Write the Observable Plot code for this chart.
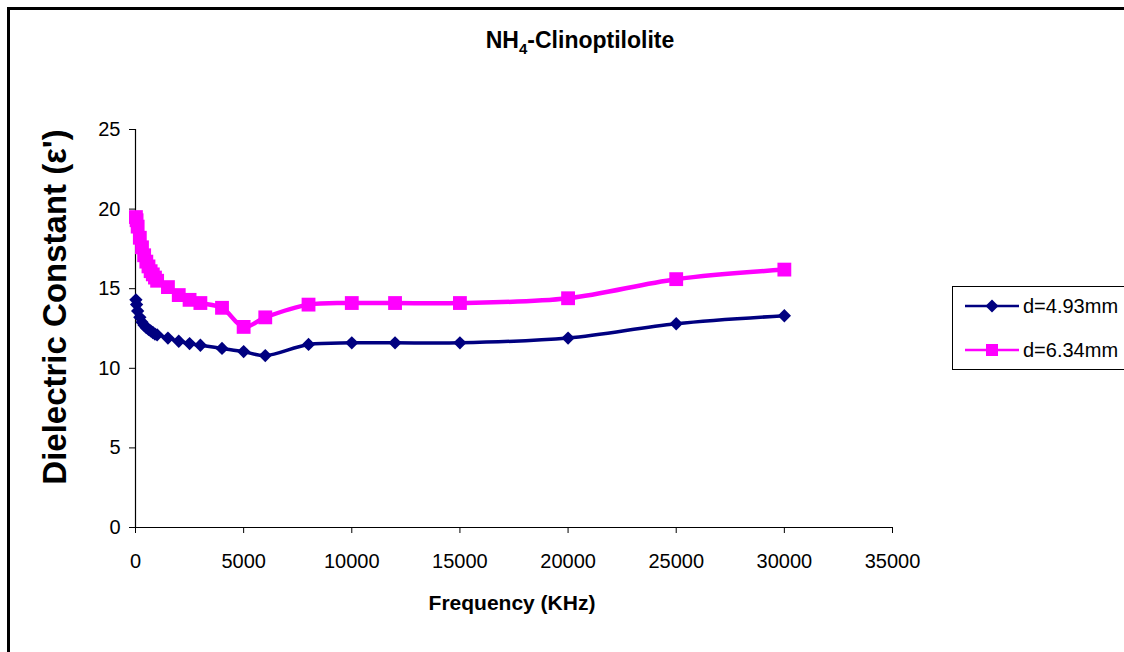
<!DOCTYPE html>
<html>
<head>
<meta charset="utf-8">
<script src="https://cdn.jsdelivr.net/npm/d3@7"></script>
<script src="https://cdn.jsdelivr.net/npm/@observablehq/plot@0.6"></script>
<style>
  html, body { margin: 0; padding: 0; background: #fff; }
  body { width: 1124px; height: 652px; position: relative; overflow: hidden; font-family: "Liberation Sans", Arial, sans-serif; }
  #frame { position: absolute; left: 7px; top: 7px; width: 1130px; height: 660px; border-top: 3px solid #000; border-left: 3px solid #000; box-sizing: border-box; }
  #chart { position: absolute; left: 0; top: 0; }
  #title { position: absolute; left: 380px; width: 400px; top: 27px; text-align: center; font-weight: bold; font-size: 23px; color: #000; }
  #xtitle { position: absolute; left: 362px; width: 300px; top: 591px; text-align: center; font-weight: bold; font-size: 21px; }
  #ytitle { position: absolute; left: 55px; top: 307px; transform: translate(-50%, -50%) rotate(-90deg); white-space: nowrap; font-weight: bold; font-size: 33px; }
  #legend { position: absolute; left: 952px; top: 286px; width: 175px; height: 84px; border: 1px solid #000; box-sizing: border-box; background: #fff; }
  .li { position: absolute; left: 12px; height: 24px; font-size: 20px; display: flex; align-items: center; }
  .li svg { margin-right: 2px; }
</style>
</head>
<body>
<div id="frame"></div>
<div id="chart"></div>
<div id="title">NH<sub style="font-size:15px">4</sub>-Clinoptilolite</div>
<div id="xtitle">Frequency (KHz)</div>
<div id="ytitle">Dielectric Constant (ε')</div>
<div id="legend">
  <div class="li" style="top:7px"><svg width="56" height="16"><line x1="0" y1="8" x2="54" y2="8" stroke="#000080" stroke-width="2.5"/><path d="M27,1.5 L33.5,8 L27,14.5 L20.5,8 Z" fill="#000080"/></svg>d=4.93mm</div>
  <div class="li" style="top:51px"><svg width="56" height="16"><line x1="0" y1="8" x2="54" y2="8" stroke="#FF00FF" stroke-width="2.5"/><rect x="21" y="2" width="12" height="12" fill="#FF00FF"/></svg>d=6.34mm</div>
</div>
<script>
const freq = [20, 50, 100, 200, 300, 400, 500, 600, 700, 800, 900, 1000, 1500, 2000, 2500, 3000, 4000, 5000, 6000, 8000, 10000, 12000, 15000, 20000, 25000, 30000];
const d493 = [14.3, 14.0, 13.6, 13.2, 12.9, 12.7, 12.55, 12.45, 12.35, 12.25, 12.15, 12.1, 11.9, 11.7, 11.55, 11.45, 11.25, 11.05, 10.8, 11.5, 11.6, 11.6, 11.6, 11.9, 12.8, 13.3];
const d634 = [19.5, 19.3, 18.9, 18.2, 17.6, 17.1, 16.7, 16.4, 16.1, 15.9, 15.7, 15.5, 15.1, 14.6, 14.3, 14.1, 13.8, 12.6, 13.2, 14.0, 14.1, 14.1, 14.1, 14.4, 15.6, 16.2];
const xTicks = [0, 5000, 10000, 15000, 20000, 25000, 30000, 35000];
const yTicks = [0, 5, 10, 15, 20, 25];

const s1 = freq.map((f, i) => ({f, v: d493[i]}));
const s2 = freq.map((f, i) => ({f, v: d634[i]}));

const chart = Plot.plot({
  width: 1124,
  height: 652,
  marginLeft: 135,
  marginRight: 232,
  marginTop: 129,
  marginBottom: 125,
  style: {fontFamily: "Liberation Sans, Arial, sans-serif", fontSize: "20px", color: "#000", background: "transparent"},
  x: {domain: [0, 35000], ticks: xTicks, tickFormat: d3.format("d"), label: null},
  y: {domain: [0, 25], ticks: yTicks, label: null},
  marks: [
    Plot.axisX({ticks: xTicks, tickFormat: d3.format("d"), tickSize: 6, tickPadding: 20, fontSize: 20, label: null}),
    Plot.axisY({ticks: yTicks, tickSize: 6, tickPadding: 9, fontSize: 20, label: null}),
    Plot.ruleY([0], {stroke: "#000", strokeWidth: 1.2}),
    Plot.ruleX([0], {stroke: "#000", strokeWidth: 1.2}),
    Plot.line(s1, {x: "f", y: "v", stroke: "#000080", strokeWidth: 3.5, curve: "catmull-rom"}),
    Plot.dot(s1, {x: "f", y: "v", symbol: "diamond2", r: 6, fill: "#000080", stroke: "none"}),
    Plot.line(s2, {x: "f", y: "v", stroke: "#FF00FF", strokeWidth: 4.5, curve: "catmull-rom"}),
    Plot.dot(s2, {x: "f", y: "v", symbol: "square", r: 7.8, fill: "#FF00FF", stroke: "none"})
  ]
});
document.getElementById("chart").appendChild(chart);
</script>
</body>
</html>
